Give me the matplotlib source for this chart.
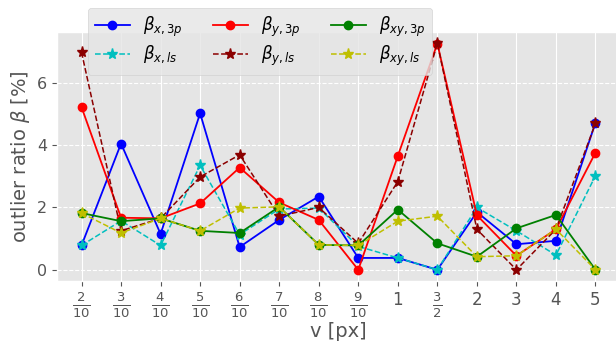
import numpy as np
import matplotlib
matplotlib.use("Agg")
import matplotlib.pyplot as plt

plt.style.use('ggplot')

v_labels = [r'$\frac{2}{10}$', r'$\frac{3}{10}$', r'$\frac{4}{10}$', r'$\frac{5}{10}$',
            r'$\frac{6}{10}$', r'$\frac{7}{10}$', r'$\frac{8}{10}$', r'$\frac{9}{10}$',
            '1', r'$\frac{3}{2}$', '2', '3', '4', '5']

beta_x_3p = [0.78, 4.05, 1.15, 5.02, 0.73, 1.60, 2.35, 0.38, 0.38, 0.0, 1.85, 0.82, 0.93, 4.72]
beta_x_ls = [0.78, 1.57, 0.78, 3.35, 1.13, 1.95, 1.98, 0.75, 0.38, 0.0, 2.00, 1.25, 0.47, 3.02]
beta_y_3p = [5.22, 1.67, 1.65, 2.13, 3.28, 2.16, 1.60, 0.0, 3.65, 7.26, 1.75, 0.45, 1.30, 3.76]
beta_y_ls = [6.98, 1.25, 1.65, 2.98, 3.69, 1.72, 2.00, 0.85, 2.83, 7.27, 1.30, 0.0, 1.30, 4.70]
beta_xy_3p = [1.82, 1.56, 1.65, 1.25, 1.18, 2.02, 0.80, 0.78, 1.93, 0.85, 0.42, 1.33, 1.76, 0.0]
beta_xy_ls = [1.82, 1.18, 1.65, 1.25, 1.98, 2.02, 0.80, 0.78, 1.56, 1.72, 0.42, 0.45, 1.30, 0.0]

x = np.arange(len(v_labels))

fig = plt.figure(figsize=(6.16, 3.45), dpi=100)
ax = fig.add_axes([57 / 616, 64 / 345, 563 / 616, 249 / 345])

ax.plot(x, beta_x_3p, 'b-o', ms=6, lw=1.3, label=r'$\beta_{x,3p}$')
ax.plot(x, beta_x_ls, 'c--*', ms=8, lw=1.1, label=r'$\beta_{x,ls}$')
ax.plot(x, beta_y_3p, 'r-o', ms=6, lw=1.3, label=r'$\beta_{y,3p}$')
ax.plot(x, beta_y_ls, '--*', color='darkred', ms=8, lw=1.1, label=r'$\beta_{y,ls}$')
ax.plot(x, beta_xy_3p, 'g-o', ms=6, lw=1.3, label=r'$\beta_{xy,3p}$')
ax.plot(x, beta_xy_ls, 'y--*', ms=8, lw=1.1, label=r'$\beta_{xy,ls}$')

ax.set_xlim(-0.62, 13.62)
ax.set_ylim(-0.36, 7.63)
ax.set_xticks(x)
ax.set_xticklabels(v_labels)
# fractions need a larger size to look like the plain numbers
for lab in ax.get_xticklabels():
    if 'frac' in lab.get_text():
        lab.set_fontsize(13.5)
    else:
        lab.set_fontsize(12)
ax.set_yticks([0, 2, 4, 6])
ax.tick_params(axis='y', labelsize=11.5)
ax.grid(True, axis='x', color='white', linestyle='-')
ax.grid(True, axis='y', color='white', linestyle='--')

ax.set_xlabel('v [px]', fontsize=14, color='#555555', labelpad=1)
ax.set_ylabel(r'outlier ratio $\beta$ [%]', fontsize=14, color='#555555')

ax.legend(ncol=3, fontsize=12, loc='upper left',
          bbox_to_anchor=(88 / 616, 1 - 8 / 345), bbox_transform=fig.transFigure,
          borderaxespad=0, handlelength=2.1, labelspacing=0.3, columnspacing=1.8)

fig.savefig('out.png', dpi=100)
